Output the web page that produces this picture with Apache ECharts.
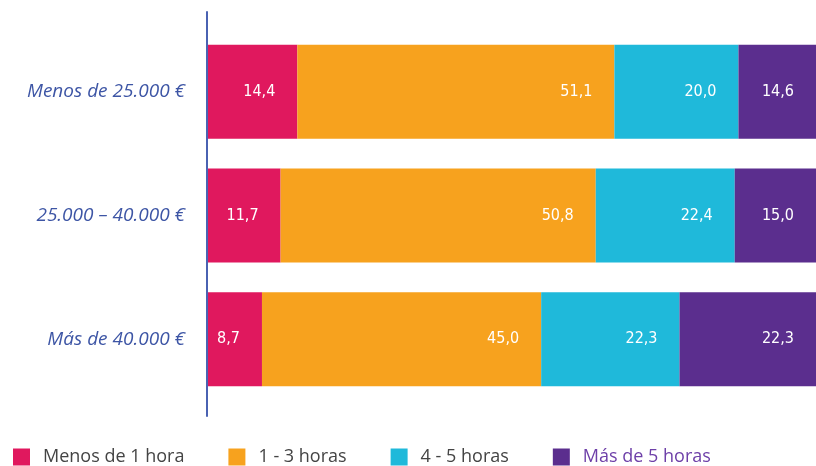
<!DOCTYPE html>
<html>
<head>
<meta charset="utf-8">
<script src="https://cdn.jsdelivr.net/npm/echarts@6/dist/echarts.min.js"></script>
<style>
	html, body { margin: 0; padding: 0; background: #fff; }
	#chart { width: 816px; height: 466px; }
</style>
</head>
<body>
<div id="chart"></div>
<script>
	// rangos de ingresos (de arriba a abajo)
	const categories = ['Menos de 25.000 €', '25.000 – 40.000 €', 'Más de 40.000 €'];
	const seriesNames = ['Menos de 1 hora', '1 - 3 horas', '4 - 5 horas', 'Más de 5 horas'];
	const menos1 = [14.4, 11.7, 8.7];
	const de1a3 = [51.1, 50.8, 45.0];
	const de4a5 = [20.0, 22.4, 22.3];
	const mas5 = [14.6, 15.0, 22.3];

	const colors = ['#e0185e', '#f7a21e', '#1fb9da', '#5b2e8e'];
	const font = "'Open Sans', 'Noto Sans', sans-serif";

	const myChart = echarts.init(document.getElementById('chart'));

	const makeSeries = (name, data, i) => ({
		name: name,
		type: 'bar',
		stack: 'total',
		data: data,
		barWidth: 94,
		clip: true,
		itemStyle: { color: colors[i] },
		label: {
			show: true,
			position: 'insideRight',
			distance: 22,
			color: '#fff',
			fontFamily: "'DejaVu Sans Condensed', 'Liberation Sans Narrow', sans-serif",
			fontSize: 16,
			formatter: p => p.value.toFixed(1).replace('.', ',')
		}
	});

	const option = {
		animation: false,
		color: colors,
		grid: [{
				left: 208,
				top: 30,
				right: 0,
				bottom: 65
			},
			{
				// solo para la línea del eje vertical
				left: 207,
				top: 12,
				right: 0,
				bottom: 50
			}
		],
		xAxis: [{
				type: 'value',
				min: 0,
				max: 98,
				show: false
			},
			{
				type: 'value',
				gridIndex: 1,
				show: false
			}
		],
		yAxis: [{
				type: 'category',
				data: categories,
				inverse: true,
				axisLine: { show: false },
				axisTick: { show: false },
				axisLabel: {
					margin: 23,
					color: '#3d55a5',
					fontStyle: 'italic',
					fontFamily: font,
					fontSize: 19
				}
			},
			{
				type: 'value',
				gridIndex: 1,
				axisLine: {
					show: true,
					lineStyle: { color: '#4a62b2', width: 2 }
				},
				axisTick: { show: false },
				axisLabel: { show: false },
				splitLine: { show: false }
			}
		],
		legend: {
			left: 13,
			top: 448,
			padding: 0,
			itemWidth: 17,
			itemHeight: 17,
			itemGap: 44,
			icon: 'rect',
			textStyle: {
				color: '#444',
				fontFamily: font,
				fontSize: 18,
				padding: [0, 0, 0, 8]
			},
			data: seriesNames.map((n, i) => i === 3 ? { name: n, textStyle: { color: '#6d3fa8' } } : n)
		},
		series: [
			makeSeries(seriesNames[0], menos1, 0),
			makeSeries(seriesNames[1], de1a3, 1),
			makeSeries(seriesNames[2], de4a5, 2),
			makeSeries(seriesNames[3], mas5, 3)
		]
	};

	myChart.setOption(option);
</script>
</body>
</html>
